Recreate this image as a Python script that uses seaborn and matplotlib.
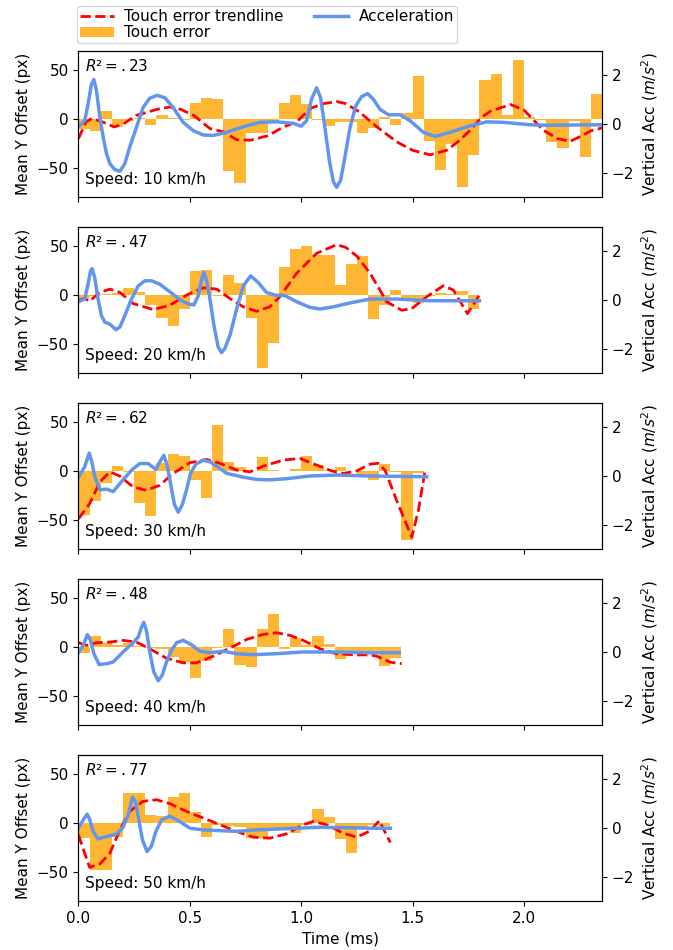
import numpy as np
import matplotlib
matplotlib.use("Agg")
import matplotlib.pyplot as plt
import seaborn as sns

plt.rcParams["font.family"] = ["DejaVu Sans"]
plt.rcParams["font.size"] = 11

speeds = [10, 20, 30, 40, 50]
r2_labels = [".23", ".47", ".62", ".48", ".77"]
BIN = 0.05  # time bin width of the touch-error bars (ms)

# Touch error per time bin (px)
err_10 = [-10, -12, 8, -8, -2, 1, -6, 4, 1, -1, 17, 22, 21, -53, -66, -14, -14, -3, 17, 25,
          16, -1, -7, -3, -3, -14, -9, 2, -6, 6, 44, -22, -52, -25, -70, -37, 40, 46, 4, 61,
          2, -1, -23, -30, -2, -39, 26]
err_20 = [-3, -1, 1, 2, 7.6, 3, -9.7, -23.5, -32, -14.5, 25, 26, -1, 20.7, 12.4, -23.5, -75, -49,
          29, 47, 50.7, 41, 41, 10, 32, 40, -24, -10, 5, -6, -7.6, -1, 2, 1, 4, -14]
err_30 = [-45.5, -30.7, -12, 5.2, -1, -32.8, -46.6, 8.6, 17.6, 15.5, -9.3, -27.6, 47.6, 9.3, 3.8,
          0.5, 14, 1, 0, 2, 16, 6.5, 1.5, 4.5, 0, -3, -8.6, 7, -1, -71, -1.5]
err_40 = [-5.9, 11, 4, 2, 4, 1.5, -1, -2, -10, -15.5, -32, -14, -1, 18.3, -18.3, -20.7, 18.3, 33.8,
          -2.4, 9.3, 1.7, 11.4, 3.5, -12, -4, -6, -6, -19.7, -11.4]
err_50 = [-15.5, -48, -48, -13.8, 31, 31, 8.6, 7.6, 27, 30.4, 11, -13.8, -2, -3, -4, -15.5, -15.5,
          -5, -7.6, -10, -2, 14.8, 6.2, -16.6, -31, -4, -2, -3]

# Touch error trendline (time ms, px)
trend_t_10 = [0, 0.033, 0.06, 0.11, 0.16, 0.2, 0.26, 0.30, 0.35, 0.41, 0.46, 0.52, 0.59, 0.65, 0.71,
              0.77, 0.85, 0.92, 0.98, 1.04, 1.1, 1.16, 1.2, 1.26, 1.34, 1.43, 1.5, 1.578, 1.653, 1.71,
              1.758, 1.81, 1.85, 1.94, 2.0, 2.087, 2.15, 2.207, 2.26, 2.3, 2.35]
trend_v_10 = [-20, -3, 0.7, -3, -8, -5, 4, 6.5, 10, 12.5, 10, 3.5, -9.7, -13, -21, -21.7, -17, -8,
              -2.8, 11, 16, 18, 16, 7.6, -8, -23.5, -32, -36.6, -32, -22, -11.4, 2, 8.3, 15, 9.3,
              -11.4, -20, -22.8, -17, -12, -9]
trend_t_20 = [0, 0.028, 0.05, 0.095, 0.141, 0.186, 0.245, 0.335, 0.41, 0.485, 0.56, 0.62, 0.68, 0.74,
              0.8, 0.859, 0.904, 0.979, 1.069, 1.159, 1.2, 1.25, 1.309, 1.384, 1.451, 1.496, 1.563,
              1.638, 1.683, 1.746, 1.8]
trend_v_20 = [-5, -3.5, -6.2, 2.8, 6.2, 2.8, -8.6, -14.8, -10.4, 0, 7.6, 6.2, -3.5, -12, -16.6, -12,
              -1.7, 22.4, 43, 51.8, 49, 40, 22.4, -6.9, -15.5, -13.8, -1.7, 9.7, 5.2, -19, 0]
trend_t_30 = [0, 0.05, 0.096, 0.141, 0.186, 0.245, 0.305, 0.365, 0.425, 0.5, 0.575, 0.635, 0.71, 0.77,
              0.83, 0.92, 0.994, 1.069, 1.14, 1.19, 1.249, 1.309, 1.346, 1.376, 1.428, 1.496, 1.526,
              1.556]
trend_v_30 = [-49, -33.5, -11, -0.7, -5.2, -16.2, -19.7, -14.5, -2.4, 8.6, 12, 8, 1, -0.7, 5.2, 11.4,
              13, 6.2, 0, -2.4, 0.3, 7.2, 8, 1, -30, -68, -40, 1]
trend_t_40 = [0, 0.036, 0.081, 0.141, 0.2, 0.26, 0.32, 0.395, 0.47, 0.53, 0.605, 0.68, 0.755, 0.829,
              0.889, 0.95, 1.009, 1.084, 1.159, 1.249, 1.309, 1.339, 1.399, 1.451]
trend_v_40 = [4.5, 1.7, 4.5, 5.2, 6.9, 5.2, -1.7, -11.4, -16.2, -16.2, -9.3, -1, 7.9, 13, 14.8, 12,
              6.9, -1.7, -6.9, -8, -8, -9.3, -15.5, -17]
trend_t_50 = [0, 0.028, 0.05, 0.096, 0.141, 0.186, 0.23, 0.29, 0.35, 0.41, 0.485, 0.56, 0.635, 0.71,
              0.785, 0.859, 0.934, 1.009, 1.054, 1.114, 1.189, 1.249, 1.309, 1.35, 1.4]
trend_v_50 = [-12, -31, -45.5, -42, -31, -6.9, 12, 22.4, 24, 20, 12, 5.2, -1.7, -8.6, -14.5, -15.5,
              -11, -1.7, 1.7, -1.7, -10.4, -14.5, -8, 2.4, -20]

# Vertical acceleration (time ms, m/s^2)
acc_t_10 = [0, 0.028, 0.043, 0.058, 0.069, 0.081, 0.096, 0.111, 0.126, 0.141, 0.163, 0.186, 0.208,
            0.23, 0.26, 0.29, 0.32, 0.353, 0.388, 0.425, 0.47, 0.515, 0.56, 0.605, 0.665, 0.74, 0.814,
            0.889, 0.964, 1.0, 1.024, 1.046, 1.069, 1.087, 1.106, 1.126, 1.144, 1.159, 1.177, 1.196,
            1.219, 1.245, 1.27, 1.298, 1.325, 1.354, 1.392, 1.444, 1.488, 1.548, 1.6, 1.668, 1.758,
            1.833, 1.908, 2.027, 2.102, 2.35]
acc_v_10 = [-0.11, 0.14, 0.81, 1.63, 1.83, 1.36, 0.27, -0.54, -1.22, -1.63, -1.87, -1.94, -1.63,
            -0.95, -0.14, 0.68, 1.06, 1.18, 1.08, 0.68, 0.07, -0.27, -0.45, -0.47, -0.34, -0.11, 0.07,
            0.09, 0.03, -0.09, 0.14, 1.02, 1.49, 1.08, -0.14, -1.49, -2.37, -2.6, -2.3, -1.36,
            -0.14, 0.75, 1.12, 1.25, 1.0, 0.6, 0.38, 0.38, 0.14, -0.34, -0.51, -0.34, -0.07,
            0.09, 0.07, -0.03, -0.05, -0.03]
acc_t_20 = [0, 0.028, 0.043, 0.054, 0.061, 0.073, 0.088, 0.103, 0.118, 0.141, 0.168, 0.186, 0.208,
            0.238, 0.268, 0.298, 0.328, 0.365, 0.41, 0.455, 0.493, 0.518, 0.538, 0.553, 0.563, 0.575,
            0.59, 0.608, 0.627, 0.642, 0.657, 0.68, 0.71, 0.74, 0.773, 0.807, 0.844, 0.882, 0.927,
            0.979, 1.039, 1.084, 1.144, 1.219, 1.309, 1.428, 1.578, 1.8]
acc_v_20 = [-0.07, 0.04, 0.65, 1.19, 1.29, 0.92, 0.04, -0.64, -0.91, -0.99, -1.22, -1.11, -0.64,
            0.04, 0.58, 0.79, 0.79, 0.65, 0.34, 0.01, -0.16, -0.2, 0.18, 0.85, 1.13, 0.79,
            0.04, -1.04, -1.93, -2.16, -1.99, -1.45, -0.37, 0.58, 0.99, 0.72, 0.31, 0.2, 0.18,
            -0.07, -0.3, -0.37, -0.28, -0.12, 0.04, 0.04, -0.03, -0.03]
acc_t_30 = [0, 0.028, 0.048, 0.06, 0.073, 0.096, 0.126, 0.156, 0.2, 0.238, 0.275, 0.313, 0.347, 0.365,
            0.383, 0.398, 0.413, 0.431, 0.448, 0.466, 0.485, 0.503, 0.527, 0.56, 0.59, 0.62, 0.665,
            0.74, 0.8, 0.859, 0.934, 1.039, 1.159, 1.309, 1.563]
acc_v_30 = [-0.05, 0.38, 0.94, 0.58, -0.03, -0.57, -0.54, -0.64, -0.16, 0.24, 0.51, 0.51, 0.27, 0.58,
            0.85, 0.45, -0.3, -1.18, -1.49, -1.18, -0.57, 0.11, 0.49, 0.65, 0.58, 0.41, 0.11,
            -0.05, -0.14, -0.16, -0.11, 0, 0.04, 0, -0.03]
acc_t_40 = [0, 0.021, 0.04, 0.054, 0.069, 0.093, 0.126, 0.156, 0.2, 0.245, 0.268, 0.283, 0.293, 0.305,
            0.32, 0.338, 0.358, 0.376, 0.395, 0.418, 0.44, 0.47, 0.507, 0.545, 0.59, 0.65, 0.71,
            0.785, 0.889, 1.009, 1.159, 1.309, 1.44]
acc_v_40 = [-0.03, 0.27, 0.71, 0.48, -0.07, -0.52, -0.48, -0.41, 0, 0.38, 0.61, 1.02, 1.22, 0.88,
            0, -0.82, -1.18, -0.95, -0.41, 0.07, 0.38, 0.48, 0.3, 0.03, -0.03, 0.03, -0.07,
            -0.11, -0.07, 0, 0, -0.03, -0.03]
acc_t_50 = [0, 0.021, 0.039, 0.051, 0.066, 0.088, 0.126, 0.171, 0.2, 0.223, 0.242, 0.256, 0.271, 0.287,
            0.308, 0.328, 0.347, 0.373, 0.41, 0.455, 0.5, 0.56, 0.635, 0.71, 0.8, 0.934, 1.084, 1.309,
            1.4]
acc_v_50 = [-0.01, 0.33, 0.57, 0.33, -0.15, -0.45, -0.35, -0.25, 0.03, 0.53, 1.25, 1.08, 0.33, -0.49,
            -0.97, -0.74, -0.15, 0.33, 0.49, 0.26, -0.01, -0.08, -0.11, -0.14, -0.08, -0.03, 0.03,
            -0.01, -0.01]

errs = [err_10, err_20, err_30, err_40, err_50]
trend_ts = [trend_t_10, trend_t_20, trend_t_30, trend_t_40, trend_t_50]
trend_vs = [trend_v_10, trend_v_20, trend_v_30, trend_v_40, trend_v_50]
acc_ts = [acc_t_10, acc_t_20, acc_t_30, acc_t_40, acc_t_50]
acc_vs = [acc_v_10, acc_v_20, acc_v_30, acc_v_40, acc_v_50]

fig, axes = plt.subplots(5, 1, figsize=(6.73, 9.5), dpi=100, sharex=True)
fig.subplots_adjust(left=0.1166, right=0.8945, top=0.9463, bottom=0.0516, hspace=0.205)

handles = None
for i, ax in enumerate(axes):
    err = errs[i]
    centers = np.arange(len(err)) * BIN + BIN / 2
    sns.barplot(x=centers, y=err, native_scale=True, orient="x", width=1, color="orange",
                saturation=1, alpha=0.8, linewidth=0, errorbar=None, ax=ax)
    sns.lineplot(x=trend_ts[i], y=trend_vs[i], ax=ax, color="red", linestyle="--",
                 linewidth=2, estimator=None, sort=False)
    ax2 = ax.twinx()
    sns.lineplot(x=acc_ts[i], y=acc_vs[i], ax=ax2, color="cornflowerblue", linewidth=2.5,
                 estimator=None, sort=False)

    ax.set_ylim(-80, 70)
    ax.set_yticks([-50, 0, 50])
    ax2.set_ylim(-3, 3)
    ax2.set_yticks([-2, 0, 2])
    ax.set_ylabel("Mean Y Offset (px)")
    ax2.set_ylabel("Vertical Acc ($m/s^2$)")
    ax.set_xlabel("")
    ax.text(0.012, 0.95, r"$R²=%s$" % r2_labels[i], transform=ax.transAxes,
            ha="left", va="top", fontsize=11)
    ax.text(0.012, 0.07, "Speed: %d km/h" % speeds[i], transform=ax.transAxes,
            ha="left", va="bottom", fontsize=11)
    if i == 0:
        handles = [ax.lines[-1], ax.patches[0], ax2.lines[-1]]

axes[-1].set_xlim(0, 2.35)
axes[-1].set_xticks([0, 0.5, 1.0, 1.5, 2.0])
axes[-1].set_xlabel("Time (ms)")

axes[0].legend(handles, ["Touch error trendline", "Touch error", "Acceleration"], ncol=2,
               loc="lower left", bbox_to_anchor=(-0.003, 1.053), borderaxespad=0, fontsize=11,
               labelspacing=0.05, borderpad=0.2, handlelength=2.2, handletextpad=0.7,
               columnspacing=2.0)

fig.savefig("out.png", dpi=100)
